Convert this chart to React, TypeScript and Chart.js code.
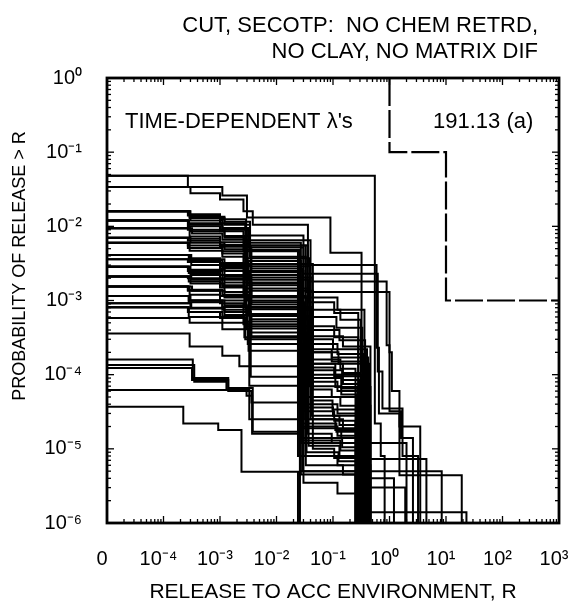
import { useEffect, useRef } from 'react';
import { Chart, registerables } from 'chart.js';

Chart.register(...registerables);

const FONT = '"Liberation Sans", Arial, Helvetica, sans-serif';
const INK = '#000000';

const titleLines = ['CUT, SECOTP:  NO CHEM RETRD,', 'NO CLAY, NO MATRIX DIF'];
const leftNote = "TIME-DEPENDENT \u03bb's";
const rightNote = '191.13 (a)';
const xAxisTitle = 'RELEASE TO ACC ENVIRONMENT, R';
const yAxisTitle = 'PROBABILITY OF RELEASE > R';

const xTickValues = [1e-5, 1e-4, 1e-3, 1e-2, 1e-1, 1, 10, 100, 1000];
const xTickLabels = ['0', '10\u207b\u2074', '10\u207b\u00b3', '10\u207b\u00b2', '10\u207b\u00b9', '10\u2070', '10\u00b9', '10\u00b2', '10\u00b3'];
const yTickValues = [1e-6, 1e-5, 1e-4, 1e-3, 1e-2, 1e-1, 1];
const yTickLabels = ['10\u207b\u2076', '10\u207b\u2075', '10\u207b\u2074', '10\u207b\u00b3', '10\u207b\u00b2', '10\u207b\u00b9', '10\u2070'];

// limit curve (dashed)
const limitLine: number[][] = [[1, 1], [1, 0.1], [10, 0.1], [10, 1e-3], [1000, 1e-3]];

// step curves: [release, probability of exceeding] breakpoints
const upperRuns: number[][][] = [
  [[1e-5, 4.8e-2], [5.5e-1, 2.2e-5], [7e-1, 8e-6], [8.2e-1, 1e-6]],
  [[1e-5, 4.8e-2], [2.7e-4, 3.4e-2], [1.1e-3, 2.6e-2], [3.0e-3, 1.32e-2], [9.0e-2, 4.4e-3], [3.2e-1, 1.1e-4], [3.6e-1, 7.3e-6], [4.5, 1e-6]],
  [[1e-5, 3.4e-2], [3.0e-4, 2.8e-2], [1.0e-3, 2.3e-2], [2.6e-3, 1.6e-2], [3.8e-3, 1.05e-2], [3.6e-2, 3.0e-3], [5.9e-1, 2.3e-4], [6.5e-1, 3e-5], [1.5, 4.4e-6], [19, 1e-6]],
  [[1e-5, 1.6e-2], [2.8e-4, 1.45e-2], [1.0e-3, 1.25e-2], [2.9e-3, 7.5e-3], [3.0e-2, 2.3e-3], [6.2e-1, 1.1e-4], [7.5e-1, 3.5e-5], [1.7, 8e-6], [3.2, 1e-6]],
  [[1e-5, 1.6e-2], [2.9e-4, 1.35e-2], [1.2e-3, 1.15e-2], [3.4e-3, 6.5e-3], [4.0e-2, 1.8e-3], [8.9e-1, 2.5e-4], [1.0, 3.2e-5], [1.6, 1.4e-5], [2.6, 1e-6]],
  [[1e-5, 1.2e-2], [2.8e-4, 1.05e-2], [1.1e-3, 9.5e-3], [3.0e-3, 5.5e-3], [3.3e-2, 1.3e-3], [1.0, 2.0e-4], [1.1, 6e-5], [1.5, 2e-5], [3.5, 1e-6]],
];

const mainRuns: number[][][] = [
  [[1e-5, 1.6e-2], [2.7e-4, 1.4e-2], [1.0e-3, 1.1e-2], [2.8e-3, 6.0e-3], [2.7e-2, 1.1e-3], [1.2e-1, 7.5e-4], [3.6e-1, 2.1e-5], [4.2e-1, 1e-6]],
  [[1e-5, 1.6e-2], [2.9e-4, 1.3e-2], [1.2e-3, 1.05e-2], [3.4e-3, 5.5e-3], [3.6e-2, 9.5e-4], [1.05e-1, 6.8e-4], [2.8e-1, 1e-6]],
  [[1e-5, 1.6e-2], [3.0e-4, 1.2e-2], [1.1e-3, 9.5e-3], [3.2e-3, 5.2e-3], [3.0e-2, 7.5e-4], [1.35e-1, 5.5e-4], [3.1e-1, 1e-6]],
  [[1e-5, 1.2e-2], [2.8e-4, 1.1e-2], [1.1e-3, 9.0e-3], [3.3e-3, 4.8e-3], [2.6e-2, 6.0e-4], [1.15e-1, 4.3e-4], [3.3e-1, 3e-6], [1.9, 1e-6]],
  [[1e-5, 1.2e-2], [2.8e-4, 1.0e-2], [1.0e-3, 8.6e-3], [2.6e-3, 4.6e-3], [2.4e-2, 4.5e-4], [1.05e-1, 3.2e-4], [2.8e-1, 4e-6], [1.2, 1e-6]],
  [[1e-5, 1.2e-2], [2.7e-4, 9.0e-3], [1.2e-3, 7.4e-3], [3.4e-3, 3.9e-3], [3.3e-2, 3.3e-4], [1.5e-1, 2.4e-4], [4.6e-1, 1e-6]],
  [[1e-5, 9.4e-3], [3.0e-4, 8.6e-3], [1.2e-3, 7.0e-3], [2.7e-3, 3.7e-3], [3.9e-2, 4.0e-4], [1.3e-1, 2.9e-4], [3.7e-1, 1e-6]],
  [[1e-5, 9.4e-3], [3.2e-4, 8.0e-3], [1.1e-3, 6.6e-3], [3.0e-3, 3.4e-3], [2.7e-2, 2.6e-4], [1.2e-1, 1.9e-4], [3.4e-1, 1.2e-5], [2.0, 1e-6]],
  [[1e-5, 9.4e-3], [2.9e-4, 7.3e-3], [1.0e-3, 6.1e-3], [2.9e-3, 3.1e-3], [4.4e-2, 2.2e-4], [9.5e-2, 1.7e-4], [4.2e-1, 1e-6]],
  [[1e-5, 7.0e-3], [2.8e-4, 6.8e-3], [1.0e-3, 5.6e-3], [2.8e-3, 2.9e-3], [4.0e-2, 2.0e-4], [9.5e-2, 1.5e-4], [3.8e-1, 1e-6]],
  [[1e-5, 7.0e-3], [2.7e-4, 6.4e-3], [1.0e-3, 5.3e-3], [3.5e-3, 2.7e-3], [2.9e-2, 3.0e-4], [1.0e-1, 2.2e-4], [4.0e-1, 1e-6]],
  [[1e-5, 7.0e-3], [3.0e-4, 6.0e-3], [1.2e-3, 4.9e-3], [3.6e-3, 2.5e-3], [3.0e-2, 1.6e-4], [1.35e-1, 1.2e-4], [2.5e-1, 1e-6]],
  [[1e-5, 6.0e-3], [2.7e-4, 5.5e-3], [1.1e-3, 4.6e-3], [3.1e-3, 2.4e-3], [2.5e-2, 1.4e-4], [1.5e-1, 1.05e-4], [3.1e-1, 1e-6]],
  [[1e-5, 6.0e-3], [2.7e-4, 5.1e-3], [1.1e-3, 4.3e-3], [2.6e-3, 2.2e-3], [2.4e-2, 1.25e-4], [1.05e-1, 9.5e-5], [4.2e-1, 5e-6], [8.4, 1e-6]],
  [[1e-5, 6.0e-3], [2.9e-4, 4.7e-3], [1.1e-3, 3.9e-3], [2.8e-3, 2.05e-3], [4.3e-2, 1.15e-4], [1.45e-1, 8.5e-5], [2.9e-1, 1e-6]],
  [[1e-5, 4.1e-3], [2.9e-4, 3.7e-3], [1.0e-3, 3.2e-3], [3.2e-3, 1.9e-3], [3.6e-2, 1.0e-4], [1.5e-1, 7.5e-5], [3.1e-1, 1e-6]],
  [[1e-5, 4.1e-3], [3.1e-4, 3.6e-3], [1.2e-3, 3.0e-3], [3.5e-3, 1.75e-3], [2.8e-2, 9e-5], [1.1e-1, 6.8e-5], [4.6e-1, 1e-6]],
  [[1e-5, 4.1e-3], [3.0e-4, 3.5e-3], [1.0e-3, 2.9e-3], [3.1e-3, 1.7e-3], [2.5e-2, 2.0e-4], [1.25e-1, 1.4e-4], [4.5e-1, 1e-6]],
  [[1e-5, 4.1e-3], [2.8e-4, 3.5e-3], [1.1e-3, 2.8e-3], [2.9e-3, 1.6e-3], [2.7e-2, 8e-5], [1.2e-1, 6e-5], [3.6e-1, 1e-6]],
  [[1e-5, 3.6e-3], [2.7e-4, 3.3e-3], [1.0e-3, 2.7e-3], [2.7e-3, 1.45e-3], [3.8e-2, 7e-5], [1.4e-1, 5.4e-5], [2.6e-1, 1e-6]],
  [[1e-5, 3.6e-3], [3.1e-4, 3.0e-3], [1.2e-3, 2.5e-3], [3.4e-3, 1.35e-3], [4.4e-2, 6.3e-5], [9.5e-2, 5e-5], [2.8e-1, 1e-6]],
  [[1e-5, 2.85e-3], [2.7e-4, 2.5e-3], [1.0e-3, 2.2e-3], [2.6e-3, 1.15e-3], [3.3e-2, 5e-5], [1.35e-1, 3.8e-5], [4.6e-1, 1e-6]],
  [[1e-5, 2.85e-3], [2.8e-4, 2.6e-3], [1.2e-3, 2.1e-3], [3.6e-3, 1.1e-3], [3.5e-2, 1.4e-4], [1.1e-1, 1.0e-4], [3.2e-1, 1e-6]],
  [[1e-5, 2.85e-3], [2.9e-4, 2.5e-3], [1.1e-3, 2.0e-3], [3.0e-3, 1.0e-3], [2.4e-2, 4e-5], [1.2e-1, 3e-5], [3.4e-1, 1e-6]],
  [[1e-5, 2.85e-3], [2.8e-4, 2.35e-3], [1.0e-3, 1.9e-3], [3.3e-3, 9.5e-4], [3.1e-2, 3.6e-5], [1.0e-1, 2.8e-5], [3.9e-1, 1e-6]],
  [[1e-5, 2.85e-3], [3.0e-4, 2.2e-3], [1.2e-3, 1.75e-3], [3.6e-3, 8.8e-4], [3.0e-2, 3.2e-5], [1.05e-1, 2.4e-5], [2.5e-1, 1e-6]],
  [[1e-5, 2.1e-3], [2.7e-4, 2.0e-3], [1.1e-3, 1.6e-3], [2.7e-3, 8.2e-4], [4.2e-2, 2.8e-5], [1.3e-1, 2.1e-5], [3.0e-1, 1e-6]],
  [[1e-5, 2.1e-3], [3.1e-4, 1.9e-3], [1.1e-3, 1.55e-3], [2.9e-3, 8.0e-4], [3.2e-2, 9e-5], [1.4e-1, 6.5e-5], [2.7e-1, 1e-6]],
  [[1e-5, 2.1e-3], [2.8e-4, 1.8e-3], [1.0e-3, 1.5e-3], [2.8e-3, 7.6e-4], [4.0e-2, 2.5e-5], [1.5e-1, 1.9e-5], [3.8e-1, 1e-6]],
  [[1e-5, 2.1e-3], [3.0e-4, 1.7e-3], [1.2e-3, 1.3e-3], [3.5e-3, 9.4e-5], [3.2e-2, 2.5e-5], [1.1e-1, 1.8e-5], [3.3e-1, 1e-6]],
  [[1e-5, 1.55e-3], [2.7e-4, 1.4e-3], [1.1e-3, 1.2e-3], [3.2e-3, 6.6e-4], [2.7e-2, 2.0e-5], [1.2e-1, 1.5e-5], [4.2e-1, 1e-6]],
  [[1e-5, 1.55e-3], [2.7e-4, 1.35e-3], [1.0e-3, 1.15e-3], [3.3e-3, 6.2e-4], [4.1e-2, 4.5e-5], [9.8e-2, 3.4e-5], [4.3e-1, 1e-6]],
  [[1e-5, 1.55e-3], [3.2e-4, 1.35e-3], [1.2e-3, 1.1e-3], [3.4e-3, 5.6e-4], [3.6e-2, 1.6e-5], [9.5e-2, 1.2e-5], [3.1e-1, 1e-6]],
  [[1e-5, 1.55e-3], [2.9e-4, 1.2e-3], [1.0e-3, 1.0e-3], [2.9e-3, 5.2e-4], [2.6e-2, 1.4e-5], [1.45e-1, 1.05e-5], [3.5e-1, 1e-6]],
  [[1e-5, 1.15e-3], [2.9e-4, 1.0e-3], [1.0e-3, 9.2e-4], [2.6e-3, 4.8e-4], [3.0e-2, 1.3e-5], [1.35e-1, 9.5e-6], [2.8e-1, 1e-6]],
  [[1e-5, 1.15e-3], [3.0e-4, 1.0e-3], [1.2e-3, 8.6e-4], [3.0e-3, 4.5e-4], [2.8e-2, 2.2e-5], [1.15e-1, 1.7e-5], [3.7e-1, 1e-6]],
  [[1e-5, 1.15e-3], [2.8e-4, 1.0e-3], [1.1e-3, 8.2e-4], [3.0e-3, 4.2e-4], [4.4e-2, 1.0e-5], [1.05e-1, 7.5e-6], [3.6e-1, 1.4e-6], [23, 1e-6]],
  [[1e-5, 1.15e-3], [2.8e-4, 9.5e-4], [1.1e-3, 7.5e-4], [3.3e-3, 7.1e-5], [2.9e-2, 1.9e-5], [1.4e-1, 1.4e-5], [4.1e-1, 1e-6]],
  [[1e-5, 9.2e-4], [3.1e-4, 8.0e-4], [1.2e-3, 7.0e-4], [3.5e-3, 3.7e-4], [3.4e-2, 9e-6], [1.25e-1, 6.8e-6], [4.4e-1, 1e-6]],
  [[1e-5, 9.2e-4], [3.0e-4, 7.8e-4], [1.2e-3, 6.4e-4], [3.6e-3, 3.3e-4], [2.4e-2, 8e-6], [1.2e-1, 6e-6], [4.6e-1, 1e-6]],
  [[1e-5, 8.1e-4], [2.8e-4, 7.0e-4], [1.1e-3, 6.1e-4], [2.7e-3, 3.2e-4], [3.7e-2, 1.1e-5], [1.3e-1, 8e-6], [2.6e-1, 1e-6]],
  [[1e-5, 8.1e-4], [2.7e-4, 7.0e-4], [1.0e-3, 5.8e-4], [2.8e-3, 3.0e-4], [3.3e-2, 6e-6], [1.5e-1, 4.5e-6], [3.4e-1, 1e-6]],
  [[1e-5, 8.1e-4], [2.8e-4, 6.0e-4], [1.1e-3, 5.0e-4], [3.1e-3, 2.6e-4], [2.9e-2, 5e-6], [2.7e-1, 1e-6]],
  [[1e-5, 5.8e-4], [2.9e-4, 5.0e-4], [1.1e-3, 4.1e-4], [3.2e-3, 2.1e-4], [2.7e-2, 4.5e-6], [2.5e-1, 1e-6]],
  [[1e-5, 3.6e-4], [2.9e-4, 2.4e-4], [1.1e-3, 1.8e-4], [2.2e-3, 1.3e-4], [3.0e-2, 3.5e-6], [1.2e-1, 2.5e-6], [3.8e-1, 1e-6]],
];

const lowerRuns: number[][][] = [
  [[1e-5, 1.6e-4], [3.3e-4, 9.0e-5], [1.4e-3, 6.6e-5], [3.8e-3, 1.7e-5], [2.6e-2, 5e-6], [3.0e-1, 1e-6]],
  [[1e-5, 1.35e-4], [3.5e-4, 8.0e-5], [1.3e-3, 6.2e-5], [3.3e-3, 2.5e-5], [3.0e-2, 8e-6], [2.8e-1, 1e-6]],
  [[1e-5, 1.23e-4], [3.2e-4, 8.5e-5], [1.4e-3, 6e-5], [3.6e-3, 4.2e-5], [2.8e-2, 1.2e-5], [3.4e-1, 1e-6]],
  [[1e-5, 6.2e-5], [2.95e-3, 5.2e-5], [3.7e-3, 1.6e-5], [2.6e-2, 1e-6]],
  [[1e-5, 3.7e-5], [2.24e-4, 2.2e-5], [9.3e-4, 1.8e-5], [2.4e-3, 4.9e-6], [2.4e-2, 1e-6]],
];

function labelFor(values: number[], labels: string[], v: number): string {
  for (let i = 0; i < values.length; i++) {
    if (Math.abs(Math.log10(values[i]) - Math.log10(v)) < 1e-6) return labels[i];
  }
  return '';
}

const decorPlugin = {
  id: 'decor',
  afterDatasetsDraw(chart: any) {
    const { ctx, chartArea: a, scales } = chart;
    const xs = scales.x;
    const ys = scales.y;
    ctx.save();
    ctx.strokeStyle = INK;
    ctx.lineWidth = 1.3;
    const seg = (x1: number, y1: number, x2: number, y2: number) => {
      ctx.beginPath();
      ctx.moveTo(x1, y1);
      ctx.lineTo(x2, y2);
      ctx.stroke();
    };
    for (let d = -5; d <= 3; d++) {
      for (let k = 1; k <= 9; k++) {
        if (d === 3 && k > 1) break;
        const v = k * Math.pow(10, d);
        const px = xs.getPixelForValue(v);
        const len = k === 1 ? 7 : 4;
        seg(px, a.bottom, px, a.bottom - len);
        seg(px, a.top, px, a.top + len);
      }
    }
    for (let d = -6; d <= 0; d++) {
      for (let k = 1; k <= 9; k++) {
        if (d === 0 && k > 1) break;
        const v = k * Math.pow(10, d);
        const py = ys.getPixelForValue(v);
        const len = k === 1 ? 7 : 4;
        seg(a.left, py, a.left + len, py);
        seg(a.right, py, a.right - len, py);
      }
    }
    ctx.lineWidth = 2.8;
    ctx.strokeRect(a.left, a.top, a.right - a.left, a.bottom - a.top);

    ctx.fillStyle = INK;
    ctx.font = `22px ${FONT}`;
    ctx.textBaseline = 'alphabetic';
    ctx.textAlign = 'right';
    ctx.fillText(titleLines[0], 538, 32);
    ctx.fillText(titleLines[1], 538, 58);
    ctx.textAlign = 'left';
    ctx.fillText(leftNote, 125, 128);
    ctx.fillText(rightNote, 433, 128);

    ctx.font = `18px ${FONT}`;
    ctx.textAlign = 'center';
    ctx.textBaseline = 'middle';
    ctx.translate(20, 266);
    ctx.rotate(-Math.PI / 2);
    ctx.fillText(yAxisTitle, 0, 0);
    ctx.restore();
  },
};

export default function App() {
  const ref = useRef<HTMLCanvasElement | null>(null);

  useEffect(() => {
    if (!ref.current) return;
    const runDatasets = [...upperRuns, ...mainRuns, ...lowerRuns].map((run) => ({
      data: run.map(([x, y]) => ({ x, y })),
      borderColor: '#000000',
      borderWidth: 2,
      pointRadius: 0,
      stepped: 'before' as const,
      fill: false,
    }));
    const limitDataset = {
      data: limitLine.map(([x, y]) => ({ x, y })),
      borderColor: '#000000',
      borderWidth: 2.2,
      borderDash: [28, 4],
      pointRadius: 0,
      stepped: false,
      tension: 0,
      fill: false,
    };
    const tickFont = { family: FONT, size: 20 };
    const chart = new Chart(ref.current, {
      type: 'line',
      data: { datasets: [...runDatasets, limitDataset] as any },
      options: {
        responsive: false,
        animation: false,
        events: [],
        layout: { padding: { left: 0, right: 18, top: 78, bottom: 0 } },
        plugins: { legend: { display: false }, tooltip: { enabled: false }, title: { display: false } },
        scales: {
          x: {
            type: 'logarithmic',
            position: 'bottom',
            min: 1e-5,
            max: 1e3,
            afterBuildTicks: (s: any) => {
              s.ticks = xTickValues.map((v) => ({ value: v }));
            },
            afterFit: (s: any) => {
              s.height = 85;
              s.paddingLeft = 0;
              s.paddingRight = 0;
            },
            grid: { display: false, drawTicks: false },
            border: { display: false },
            ticks: {
              autoSkip: false,
              maxRotation: 0,
              minRotation: 0,
              padding: 24,
              labelOffset: -5,
              color: INK,
              font: tickFont,
              callback: (v: any) => labelFor(xTickValues, xTickLabels, Number(v)),
            },
            title: { display: true, text: xAxisTitle, color: INK, font: { family: FONT, size: 21 }, padding: { top: 0, bottom: 3 } },
          },
          y: {
            type: 'logarithmic',
            position: 'left',
            min: 1e-6,
            max: 1,
            afterBuildTicks: (s: any) => {
              s.ticks = yTickValues.map((v) => ({ value: v }));
            },
            afterFit: (s: any) => {
              s.width = 107;
              s.paddingTop = 0;
              s.paddingBottom = 0;
            },
            grid: { display: false, drawTicks: false },
            border: { display: false },
            ticks: {
              autoSkip: false,
              padding: 25,
              color: INK,
              font: tickFont,
              callback: (v: any) => labelFor(yTickValues, yTickLabels, Number(v)),
            },
            title: { display: false, text: yAxisTitle },
          },
        },
      },
      plugins: [decorPlugin],
    });
    return () => chart.destroy();
  }, []);

  return (
    <div style={{ position: 'absolute', left: 0, top: 0, width: 577, height: 608, background: '#fff' }}>
      <canvas ref={ref} width={577} height={608} style={{ display: 'block' }} />
    </div>
  );
}
